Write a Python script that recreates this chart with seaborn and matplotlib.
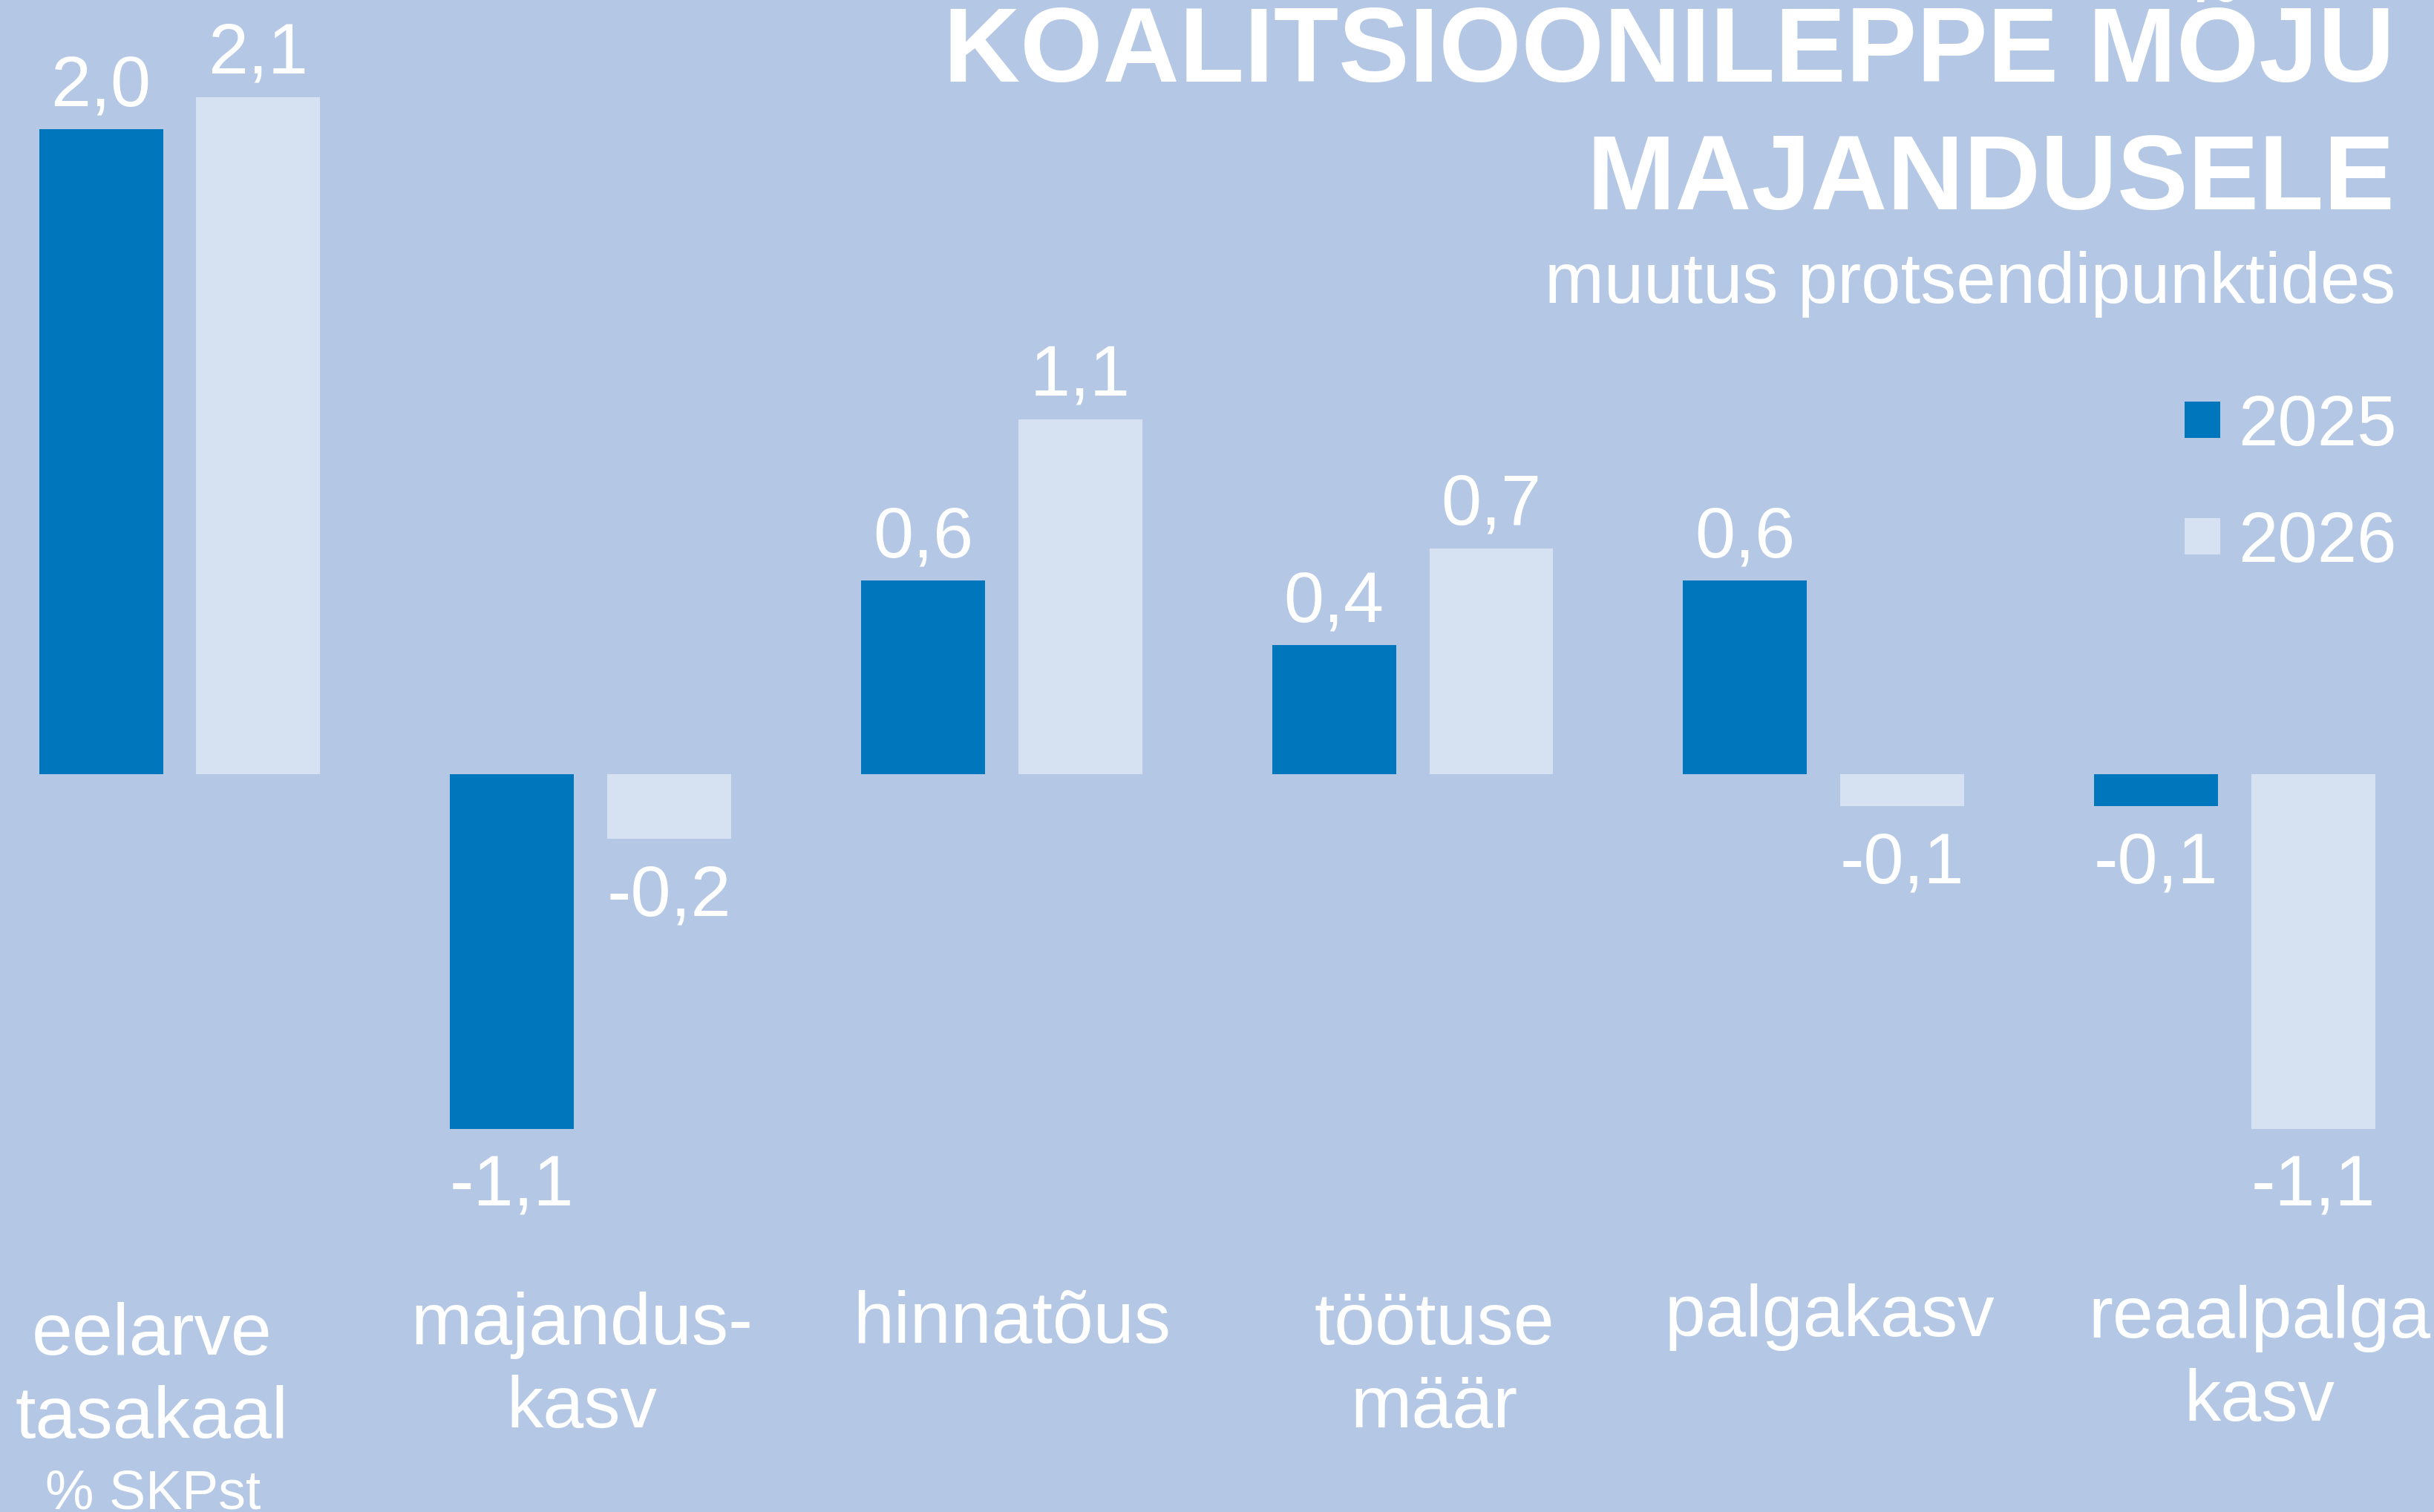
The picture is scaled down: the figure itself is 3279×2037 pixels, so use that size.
import matplotlib
matplotlib.use("Agg")
import pandas as pd
import matplotlib.pyplot as plt
import seaborn as sns

# andmed
kategooriad = ["eelarve\ntasakaal", "majandus-\nkasv", "hinnatõus",
               "töötuse\nmäär", "palgakasv", "reaalpalga\nkasv"]
aastad = ["2025", "2026"]
muutus_2025 = [2.0, -1.1, 0.6, 0.4, 0.6, -0.1]
muutus_2026 = [2.1, -0.2, 1.1, 0.7, -0.1, -1.1]
pealkiri = ["KOALITSIOONILEPPE MÕJU", "MAJANDUSELE"]
alapealkiri = "muutus protsendipunktides"
lisa = "% SKPst"

taust = "#b4c8e6"
varvid = {"2025": "#0077bd", "2026": "#d6e2f2"}

# siltide paigutus (nihe grupi keskelt, viimase rea baasjoon andmeühikutes)
silt_dx = [-0.067, -0.021, 0.025, 0.053, 0.014, 0.06]
silt_y = [-2.0575, -2.0253, -1.763, -2.0253, -1.743, -2.0046]

df = pd.DataFrame({
    "kategooria": kategooriad * 2,
    "aasta": [aastad[0]] * len(kategooriad) + [aastad[1]] * len(kategooriad),
    "muutus": muutus_2025 + muutus_2026,
})

sns.set_theme(style="white")
plt.rcParams["font.family"] = ["Liberation Sans", "DejaVu Sans"]

fig = plt.figure(figsize=(32.79, 20.37), dpi=100, facecolor=taust)
ax = fig.add_axes([0, 0, 1, 1])
ax.set_facecolor(taust)

sns.barplot(data=df, x="kategooria", y="muutus", hue="aasta",
            order=kategooriad, hue_order=aastad, palette=varvid,
            saturation=1, width=0.765, gap=0.212, errorbar=None,
            linewidth=0, ax=ax)

ax.set_xlim(-0.437, 5.485)
ax.set_ylim(-2.2877, 2.4005)
ax.axis("off")

# väärtused
for cont, vals in zip(ax.containers, [muutus_2025, muutus_2026]):
    for bar, v in zip(cont, vals):
        x = bar.get_x() + bar.get_width() / 2
        tekst = f"{v:.1f}".replace(".", ",")
        if v >= 0:
            ax.annotate(tekst, (x, v), xytext=(0, 23), textcoords="offset points",
                        ha="center", va="baseline", color="white", fontsize=70)
        else:
            ax.annotate(tekst, (x, v), xytext=(0, -24), textcoords="offset points",
                        ha="center", va="top", color="white", fontsize=70)

# kategooriate nimed
for i, nimi in enumerate(kategooriad):
    ax.text(i + silt_dx[i], silt_y[i], nimi, ha="center", va="baseline",
            color="white", fontsize=71, linespacing=1.3)
ax.text(silt_dx[0] + 0.003, -2.278, lisa, ha="center", va="baseline",
        color="white", fontsize=53)

# pealkiri
fig.text(0.9838, 0.946, pealkiri[0], ha="right", va="baseline",
         color="white", fontsize=103, fontweight="bold")
fig.text(0.9838, 0.8616, pealkiri[1], ha="right", va="baseline",
         color="white", fontsize=103, fontweight="bold")
fig.text(0.9843, 0.7997, alapealkiri, ha="right", va="baseline",
         color="white", fontsize=69)

handles, labels = ax.get_legend_handles_labels()
leg = ax.legend(handles, labels, loc="upper right", bbox_to_anchor=(0.9845, 0.740),
                bbox_transform=fig.transFigure, frameon=False, fontsize=69,
                handlelength=0.5, handleheight=0.42, handletextpad=0.25,
                labelspacing=0.7, borderpad=0, borderaxespad=0)
for t in leg.get_texts():
    t.set_color("white")

fig.savefig("out.png", dpi=100, facecolor=taust)
